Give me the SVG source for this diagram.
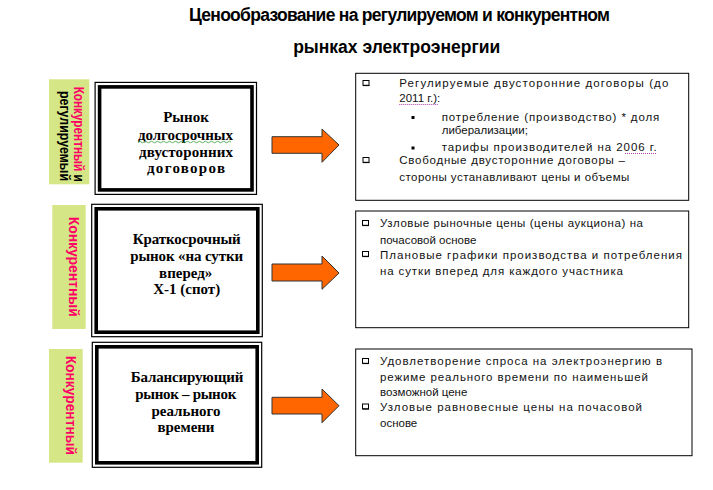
<svg xmlns="http://www.w3.org/2000/svg" width="713" height="490" viewBox="0 0 713 490">
<style>
.title{font-family:"Liberation Sans",Arial,sans-serif;font-weight:bold;font-size:17.5px;fill:#000;text-anchor:middle}
.lbl{fill:#D4E685}
.vt{font-family:"Liberation Sans",Arial,sans-serif;font-weight:bold;font-size:15px}
.pk{fill:#FF0066}
.bk{fill:#000}
.outer{fill:#fff;stroke:#000;stroke-width:1.2}
.inner{fill:none;stroke:#000;stroke-width:3.6}
.st{font-family:"Liberation Serif","Times New Roman",serif;font-weight:bold;font-size:15px;fill:#000;text-anchor:middle}
.rb{fill:#fff;stroke:#000;stroke-width:1}
.tx{font-family:"Liberation Sans",Arial,sans-serif;font-size:11.5px;fill:#111}
.arr{fill:#FF6600;stroke:#333;stroke-width:1}
.bul{fill:#fff;stroke:#000;stroke-width:1}
.sq{fill:#000}
.spell{stroke:#B040B0;stroke-width:1;stroke-dasharray:1 1;fill:none}
</style>

<g id="title">
<text class="title" x="399.5" y="21" textLength="421">Ценообразование на регулируемом и конкурентном</text>
<text class="title" x="396.7" y="53">рынках электроэнергии</text>
</g>

<g id="label1">
<rect class="lbl" x="49" y="79.3" width="40.3" height="105"/>
<text class="vt" transform="translate(73.5,86.7) rotate(90)" textLength="95" lengthAdjust="spacingAndGlyphs"><tspan class="pk">Конкурентный</tspan><tspan class="bk"> и</tspan></text>
<text class="vt bk" transform="translate(59.5,91) rotate(90)" textLength="90" lengthAdjust="spacingAndGlyphs">регулируемый</text>
</g>
<g id="label2">
<rect class="lbl" x="52.3" y="205" width="33.4" height="124"/>
<text class="vt pk" transform="translate(68.5,216.7) rotate(90)" textLength="100" lengthAdjust="spacingAndGlyphs">Конкурентный</text>
</g>
<g id="label3">
<rect class="lbl" x="49" y="349" width="33.7" height="113.7"/>
<text class="vt pk" transform="translate(65.5,355.7) rotate(90)" textLength="99.3" lengthAdjust="spacingAndGlyphs">Конкурентный</text>
</g>

<g id="market1">
<rect class="outer" x="95.1" y="82.4" width="161.4" height="112"/>
<rect class="inner" x="99.6" y="86.9" width="152.4" height="103"/>
<text class="st" x="186" y="122">Рынок</text>
<text class="st" x="185.5" y="139.5" textLength="95">долгосрочных</text>
<path d="M138 142 q1.5 -1.5 3 0 t3 0 t3 0 t3 0 t3 0 t3 0 t3 0 t3 0 t3 0 t3 0 t3 0 t3 0 t3 0 t3 0 t3 0 t3 0 t3 0 t3 0 t3 0 t3 0 t3 0 t3 0 t3 0 t3 0 t3 0 t3 0 t3 0 t3 0 t3 0 t3 0 t3 0" fill="none" stroke="#3a9a3a" stroke-width="0.8"/>
<text class="st" x="186" y="156.5" textLength="94">двусторонних</text>
<text class="st" x="186" y="173" textLength="78">договоров</text>
</g>
<g id="market2">
<rect class="outer" x="91.7" y="204.3" width="170.6" height="132.4"/>
<rect class="inner" x="96.2" y="208.8" width="161.6" height="123.4"/>
<text class="st" x="186.7" y="244" textLength="108">Краткосрочный</text>
<text class="st" x="186.7" y="260.7" textLength="113">рынок «на сутки</text>
<text class="st" x="185.7" y="277.7">вперед»</text>
<text class="st" x="186.7" y="294.3">Х-1 (спот)</text>
</g>
<g id="market3">
<rect class="outer" x="92.3" y="342.3" width="169.4" height="125"/>
<rect class="inner" x="96.8" y="346.8" width="160.4" height="116"/>
<text class="st" x="187" y="381.7" textLength="112.6">Балансирующий</text>
<text class="st" x="185.8" y="399" textLength="101">рынок – рынок</text>
<text class="st" x="186" y="415.7" textLength="69">реального</text>
<text class="st" x="186" y="431.7" textLength="57">времени</text>
</g>

<g id="connectors">
<path class="arr" d="M272 136.7 H322 V129 L339 145 L322 162.3 V153.3 H272 Z"/>
<path class="arr" d="M272 264 H322 V256 L339 273 L322 289.3 V281 H272 Z"/>
<path class="arr" d="M272 397.3 H322 V389 L339 405.7 L322 422.7 V414 H272 Z"/>
</g>

<g id="info1">
<rect class="rb" x="355.7" y="73.3" width="333" height="127"/>
<rect class="bul" x="363" y="80.5" width="6" height="4.8"/><line x1="363" y1="85.6" x2="369.5" y2="85.6" stroke="#000" stroke-width="1"/>
<text class="tx" x="399.3" y="87" textLength="269">Регулируемые двусторонние договоры (до</text>
<text class="tx" x="399.3" y="102">2011 г.):</text>
<line class="spell" x1="399.3" y1="104.5" x2="438" y2="104.5"/>
<rect class="sq" x="411.5" y="116" width="3" height="3"/>
<text class="tx" x="441.7" y="121" textLength="217.6">потребление (производство) * доля</text>
<text class="tx" x="441.7" y="133.5">либерализации;</text>
<rect class="sq" x="411.5" y="146.5" width="3" height="3"/>
<text class="tx" x="441.7" y="151" textLength="215">тарифы производителей на 2006 г.</text>
<line class="spell" x1="625" y1="153.5" x2="656" y2="153.5"/>
<rect class="bul" x="363" y="157.5" width="6" height="4.8"/><line x1="363" y1="162.6" x2="369.5" y2="162.6" stroke="#000" stroke-width="1"/>
<text class="tx" x="399.3" y="164" textLength="225.7">Свободные двусторонние договоры –</text>
<text class="tx" x="399.3" y="181" textLength="230">стороны устанавливают цены и объемы</text>
</g>

<g id="info2">
<rect class="rb" x="355.7" y="211" width="333" height="116.7"/>
<rect class="bul" x="362.5" y="220.5" width="6" height="4.8"/><line x1="362.5" y1="225.6" x2="369" y2="225.6" stroke="#000" stroke-width="1"/>
<text class="tx" x="380" y="227" textLength="263">Узловые рыночные цены (цены аукциона) на</text>
<text class="tx" x="380" y="244">почасовой основе</text>
<rect class="bul" x="362.5" y="251.5" width="6" height="4.8"/><line x1="362.5" y1="256.6" x2="369" y2="256.6" stroke="#000" stroke-width="1"/>
<text class="tx" x="380" y="258.5" textLength="302">Плановые графики производства и потребления</text>
<text class="tx" x="380" y="275" textLength="243">на сутки вперед для каждого участника</text>
</g>

<g id="info3">
<rect class="rb" x="355.7" y="349" width="336.3" height="106.7"/>
<rect class="bul" x="362.5" y="358.5" width="6" height="4.8"/><line x1="362.5" y1="363.6" x2="369" y2="363.6" stroke="#000" stroke-width="1"/>
<text class="tx" x="380" y="365" textLength="282">Удовлетворение спроса на электроэнергию в</text>
<text class="tx" x="380" y="380.5" textLength="268">режиме реального времени по наименьшей</text>
<text class="tx" x="380" y="395.5">возможной цене</text>
<rect class="bul" x="362.5" y="404" width="6" height="4.8"/><line x1="362.5" y1="409.1" x2="369" y2="409.1" stroke="#000" stroke-width="1"/>
<text class="tx" x="380" y="410.5" textLength="262">Узловые равновесные цены на почасовой</text>
<text class="tx" x="380" y="427">основе</text>
</g>
</svg>
